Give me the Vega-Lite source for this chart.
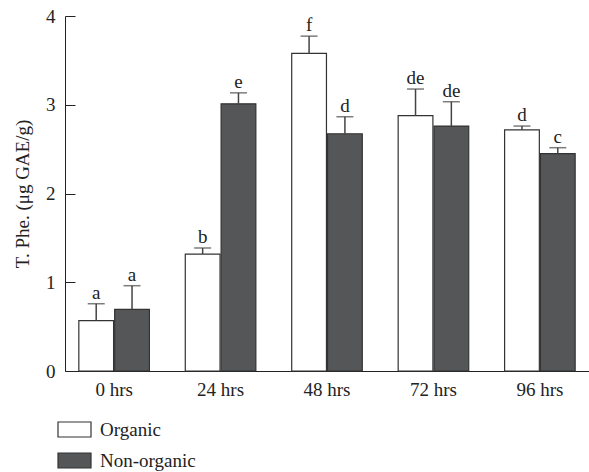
{
  "$schema": "https://vega.github.io/schema/vega-lite/v6.json",
  "width": 524,
  "height": 355,
  "autosize": {"type": "none"},
  "padding": {"left": 65, "top": 16, "right": 0, "bottom": 101},
  "config": {
    "view": {"stroke": null},
    "font": "Liberation Serif",
    "axis": {"grid": false, "domainColor": "#222", "tickColor": "#222", "labelColor": "#222", "titleColor": "#222", "labelFont": "Liberation Serif", "titleFont": "Liberation Serif"}
  },
  "data": {
    "values": [
      {"time": "0 hrs", "group": "Organic", "value": 0.567, "err": 0.758, "letter": "a"},
      {"time": "0 hrs", "group": "Non-organic", "value": 0.695, "err": 0.961, "letter": "a"},
      {"time": "24 hrs", "group": "Organic", "value": 1.318, "err": 1.386, "letter": "b"},
      {"time": "24 hrs", "group": "Non-organic", "value": 3.01, "err": 3.134, "letter": "e"},
      {"time": "48 hrs", "group": "Organic", "value": 3.578, "err": 3.773, "letter": "f"},
      {"time": "48 hrs", "group": "Non-organic", "value": 2.673, "err": 2.865, "letter": "d"},
      {"time": "72 hrs", "group": "Organic", "value": 2.877, "err": 3.177, "letter": "de"},
      {"time": "72 hrs", "group": "Non-organic", "value": 2.76, "err": 3.034, "letter": "de"},
      {"time": "96 hrs", "group": "Organic", "value": 2.716, "err": 2.76, "letter": "d"},
      {"time": "96 hrs", "group": "Non-organic", "value": 2.449, "err": 2.516, "letter": "c"}
    ]
  },
  "encoding": {
    "x": {
      "field": "time", "type": "nominal",
      "sort": ["0 hrs", "24 hrs", "48 hrs", "72 hrs", "96 hrs"],
      "scale": {"paddingInner": 0.337, "paddingOuter": 0.13},
      "axis": {"title": null, "labelAngle": 0, "ticks": false, "labelPadding": 9, "labelFontSize": 19}
    },
    "xOffset": {
      "field": "group", "type": "nominal",
      "sort": ["Organic", "Non-organic"],
      "scale": {"paddingInner": 0.03}
    }
  },
  "layer": [
    {
      "mark": {"type": "bar", "stroke": "#333", "strokeWidth": 1.2},
      "encoding": {
        "y": {
          "field": "value", "type": "quantitative",
          "scale": {"domain": [0, 4], "nice": false},
          "axis": {"values": [0, 1, 2, 3, 4], "format": "d", "tickSize": -10, "labelPadding": 20, "labelFontSize": 19, "title": "T. Phe. (μg GAE/g)", "titleFontSize": 19, "titleFontWeight": "normal", "titlePadding": 13}
        },
        "color": {
          "field": "group", "type": "nominal",
          "sort": ["Organic", "Non-organic"],
          "scale": {"domain": ["Organic", "Non-organic"], "range": ["#ffffff", "#555658"]},
          "legend": {
            "title": null, "orient": "none", "legendX": -8, "legendY": 396, "direction": "vertical",
            "symbolType": "M-1,-0.4545L1,-0.4545L1,0.4545L-1,0.4545Z", "symbolSize": 1089,
            "symbolStrokeColor": "#333", "symbolStrokeWidth": 1.2, "symbolOpacity": 1,
            "labelFontSize": 19, "labelFont": "Liberation Serif", "labelColor": "#222", "labelOffset": 8, "rowPadding": 3
          }
        }
      }
    },
    {
      "mark": {"type": "rule", "color": "#444", "strokeWidth": 1.5},
      "encoding": {
        "y": {"field": "value", "type": "quantitative"},
        "y2": {"field": "err"}
      }
    },
    {
      "mark": {"type": "tick", "color": "#444", "thickness": 1.5, "size": 17, "orient": "horizontal"},
      "encoding": {
        "y": {"field": "err", "type": "quantitative"}
      }
    },
    {
      "mark": {"type": "text", "fontSize": 19, "color": "#222", "baseline": "alphabetic", "dy": -5, "font": "Liberation Serif"},
      "encoding": {
        "y": {"field": "err", "type": "quantitative"},
        "text": {"field": "letter"}
      }
    }
  ]
}
